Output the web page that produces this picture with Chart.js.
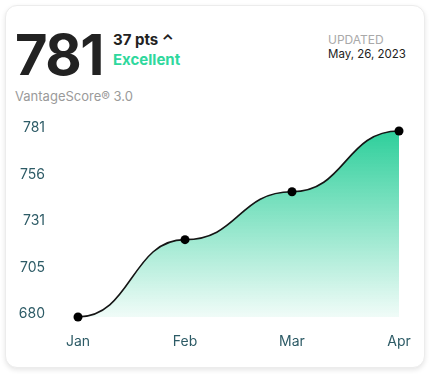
<!DOCTYPE html>
<html>
<head>
<meta charset="utf-8">
<script src="https://cdn.jsdelivr.net/npm/chart.js@4.4.0/dist/chart.umd.min.js"></script>
<style>
  html, body { margin: 0; padding: 0; background: #fff; }
  body { width: 432px; height: 376px; position: relative; overflow: hidden; font-family: Inter, "Noto Sans", sans-serif; }
  .card {
    position: absolute; left: 5px; top: 5px; width: 420px; height: 363px;
    border-radius: 12px; background: #fff;
    border: 1px solid #ececec;
    box-shadow: 0 2px 5px rgba(0,0,0,0.10);
    box-sizing: border-box;
  }
  .score { position: absolute; left: 15px; top: 27px; font-size: 56px; font-weight: 700; color: #222; letter-spacing: -1.5px; line-height: 1; }
  .pts { position: absolute; left: 113px; top: 30px; font-size: 15px; font-weight: 700; color: #222; }
  .grade { position: absolute; left: 113px; top: 50px; font-size: 15px; font-weight: 700; color: #2fd89d; }
  .model { position: absolute; left: 15px; top: 88px; font-size: 13px; color: #9a9a9a; }
  .upd { position: absolute; left: 328px; top: 32px; font-size: 12px; color: #a9a9a9; }
  .date { position: absolute; left: 328px; top: 47px; font-size: 11.5px; color: #222; }
  #wrap { position: absolute; left: 0; top: 100px; width: 432px; height: 260px; }
</style>
</head>
<body>
<div class="card"></div>
<div class="score">781</div>
<div class="pts">37 pts &#x2303;</div>
<div class="grade">Excellent</div>
<div class="model">VantageScore® 3.0</div>
<div class="upd">UPDATED</div>
<div class="date">May, 26, 2023</div>
<div id="wrap"><canvas id="chart"></canvas></div>
<script>
const months = ['Jan', 'Feb', 'Mar', 'Apr'];
const scores = [680, 722, 748, 781];
const scoreTicks = [680, 705, 731, 756, 781];

// horizontal tangents at every point (bump-style curve)
const bumpCurve = {
  id: 'bumpCurve',
  beforeDraw(chart) {
    chart.getSortedVisibleDatasetMetas().forEach(meta => {
      meta.dataset.updateControlPoints(chart.chartArea, 'x');
      const pts = meta.data;
      pts.forEach((p, i) => {
        const prev = pts[i - 1], next = pts[i + 1];
        p.cp1x = prev ? (prev.x + p.x) / 2 : p.x;
        p.cp1y = p.y;
        p.cp2x = next ? (next.x + p.x) / 2 : p.x;
        p.cp2y = p.y;
      });
    });
  }
};

const ctx = document.getElementById('chart').getContext('2d');
new Chart(ctx, {
  type: 'line',
  data: {
    labels: months,
    datasets: [{
      data: scores,
      borderColor: '#151515',
      borderWidth: 1.6,
      tension: 0.4,
      pointRadius: 4.5,
      pointBackgroundColor: '#000',
      pointBorderWidth: 0,
      fill: 'start',
      clip: false,
      backgroundColor: (c) => {
        const area = c.chart.chartArea;
        if (!area) return 'rgba(46,207,155,0.5)';
        const g = c.chart.ctx.createLinearGradient(0, area.top, 0, area.bottom);
        g.addColorStop(0, 'rgba(46,207,155,1)');
        g.addColorStop(1, 'rgba(46,207,155,0.07)');
        return g;
      }
    }]
  },
  plugins: [bumpCurve],
  options: {
    responsive: true,
    maintainAspectRatio: false,
    animation: false,
    layout: { padding: { top: 31, right: 33, left: 0, bottom: 0 } },
    plugins: { legend: { display: false }, tooltip: { enabled: false } },
    scales: {
      x: {
        offset: false,
        grid: { display: false, drawTicks: false },
        border: { display: false },
        ticks: { color: '#2d5b66', font: { family: 'Inter', size: 14 }, padding: 16, maxRotation: 0 },
        afterFit: (s) => { s.height = 43; }
      },
      y: {
        min: scoreTicks[0],
        max: scoreTicks[scoreTicks.length - 1],
        grid: { display: false, drawTicks: false },
        border: { display: false },
        afterBuildTicks: (s) => {
          const n = scoreTicks.length - 1;
          s.ticks = scoreTicks.map((t, i) => ({ value: s.min + (s.max - s.min) * i / n }));
        },
        ticks: {
          color: '#2d5b66',
          font: { family: 'Inter', size: 14 },
          padding: 33,
          labelOffset: -3,
          callback: (v, i) => scoreTicks[i]
        },
        afterFit: (s) => { s.width = 78; s.paddingTop = 8; s.paddingBottom = 8; }
      }
    }
  }
});
</script>
</body>
</html>
